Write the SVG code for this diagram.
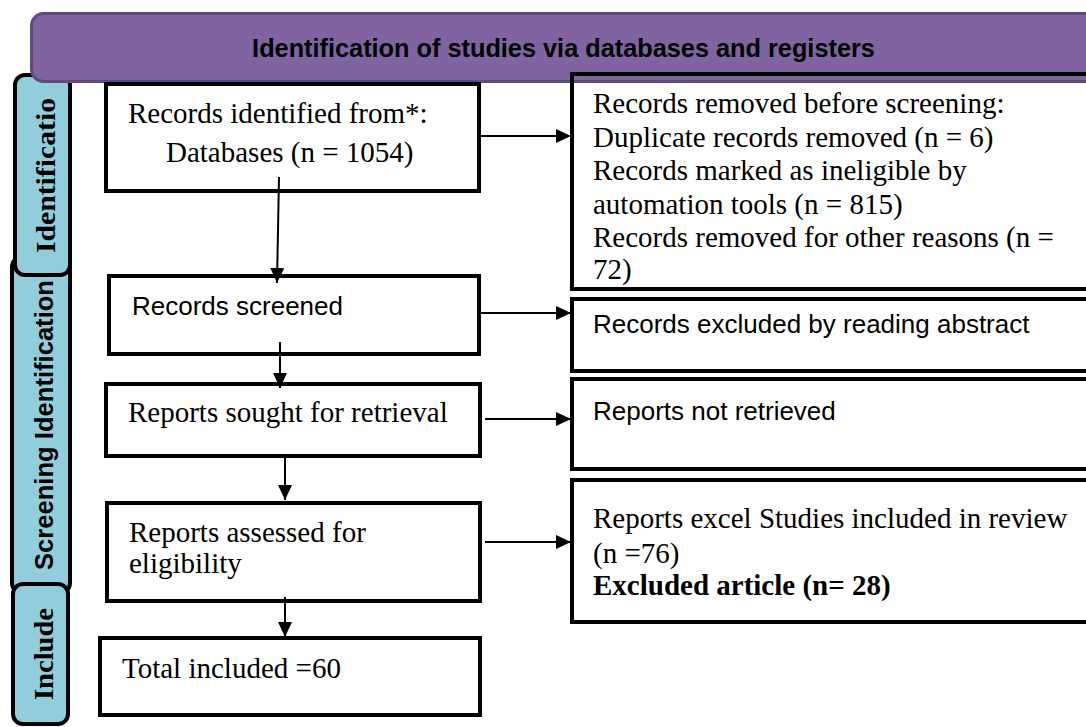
<svg xmlns="http://www.w3.org/2000/svg" width="1086" height="727" viewBox="0 0 1086 727">
<defs>
<style>
.box{fill:#fff;stroke:#000;stroke-width:4}
.rbox{fill:none;stroke:#000;stroke-width:4}
.tab{fill:#92CDDC;stroke:#000;stroke-width:4}
.serif{font-family:"Liberation Serif","Times New Roman",serif;font-size:29px;fill:#000}
.sans{font-family:"Liberation Sans",Arial,sans-serif;font-size:26px;fill:#000}
.conn{stroke:#000;stroke-width:2;fill:none;marker-end:url(#ah)}
</style>
<marker id="ah" markerUnits="userSpaceOnUse" markerWidth="15" markerHeight="14" refX="15" refY="7" orient="auto">
<path d="M0,0 L15,7 L0,14 Z" fill="#000"/>
</marker>
</defs>
<rect width="1086" height="727" fill="#fff"/>
<g id="tab-screening">
<rect class="tab" x="12" y="257" width="58" height="336" rx="10"/>
<text transform="rotate(-90 53 425)" x="53" y="425" text-anchor="middle" font-family="Liberation Sans,Arial,sans-serif" font-weight="bold" font-size="25.5" textLength="290" lengthAdjust="spacingAndGlyphs">Screening Identification</text>
</g>
<g id="tab-identification">
<rect class="tab" x="15" y="75" width="55" height="200" rx="10"/>
<text transform="rotate(-90 55 175.5)" x="55" y="175.5" text-anchor="middle" font-family="Liberation Serif,Times New Roman,serif" font-weight="bold" font-size="28" textLength="155" lengthAdjust="spacingAndGlyphs">Identificatio</text>
</g>
<g id="tab-include">
<rect class="tab" x="13" y="584" width="55" height="140" rx="10"/>
<text transform="rotate(-90 53 654)" x="53" y="654" text-anchor="middle" font-family="Liberation Serif,Times New Roman,serif" font-weight="bold" font-size="28" textLength="92" lengthAdjust="spacingAndGlyphs">Include</text>
</g>
<g id="header">
<rect x="31.5" y="13.5" width="1080" height="68" rx="12" fill="#8064A2" stroke="#5F4B7E" stroke-width="3"/>
<text x="563.5" y="57" text-anchor="middle" font-family="Liberation Sans,Arial,sans-serif" font-weight="bold" font-size="25.3" fill="#000">Identification of studies via databases and registers</text>
</g>
<g id="records-identified">
<rect class="box" x="106" y="84" width="373" height="107"/>
<text class="serif" x="128" y="123">Records identified from*:</text>
<text class="serif" x="166" y="162">Databases (n = 1054)</text>
</g>
<g id="records-screened">
<rect class="box" x="109" y="276" width="370" height="78"/>
<text class="sans" x="132" y="315">Records screened</text>
</g>
<g id="reports-sought">
<rect class="box" x="106" y="384" width="374" height="72"/>
<text class="serif" x="128" y="422">Reports sought for retrieval</text>
</g>
<g id="reports-assessed">
<rect class="box" x="107" y="503" width="373" height="98"/>
<text class="serif" x="129" y="542">Reports assessed for</text>
<text class="serif" x="129" y="573">eligibility</text>
</g>
<g id="total-included">
<rect class="box" x="100" y="638" width="380" height="77"/>
<text class="serif" x="122" y="678">Total included =60</text>
</g>
<g id="records-removed">
<rect class="rbox" x="572" y="74" width="530" height="215"/>
<text class="serif" x="593" y="113">Records removed before screening:</text>
<text class="serif" x="593" y="147">Duplicate records removed (n = 6)</text>
<text class="serif" x="593" y="180">Records marked as ineligible by</text>
<text class="serif" x="593" y="214">automation tools (n = 815)</text>
<text class="serif" x="593" y="247">Records removed for other reasons (n =</text>
<text class="serif" x="593" y="279">72)</text>
</g>
<g id="records-excluded">
<rect class="box" x="572" y="299" width="530" height="72"/>
<text class="sans" x="593" y="333">Records excluded by reading abstract</text>
</g>
<g id="reports-not-retrieved">
<rect class="box" x="572" y="379" width="530" height="90"/>
<text class="sans" x="593" y="420">Reports not retrieved</text>
</g>
<g id="reports-excluded">
<rect class="box" x="572" y="480" width="530" height="142"/>
<text class="serif" x="593" y="528">Reports excel Studies included in review</text>
<text class="serif" x="593" y="563">(n =76)</text>
<text class="serif" x="593" y="595" font-weight="bold">Excluded article (n= 28)</text>
</g>
<g id="connectors">
<line class="conn" x1="481" y1="136" x2="571" y2="136"/>
<line class="conn" x1="279" y1="177" x2="277" y2="283"/>
<line class="conn" x1="481" y1="313" x2="571" y2="313"/>
<line class="conn" x1="280" y1="342" x2="280" y2="388"/>
<line class="conn" x1="485" y1="419" x2="571" y2="419"/>
<line class="conn" x1="285" y1="458" x2="285" y2="500"/>
<line class="conn" x1="485" y1="542" x2="571" y2="542"/>
<line class="conn" x1="285" y1="597" x2="285" y2="637"/>
</g>
</svg>
